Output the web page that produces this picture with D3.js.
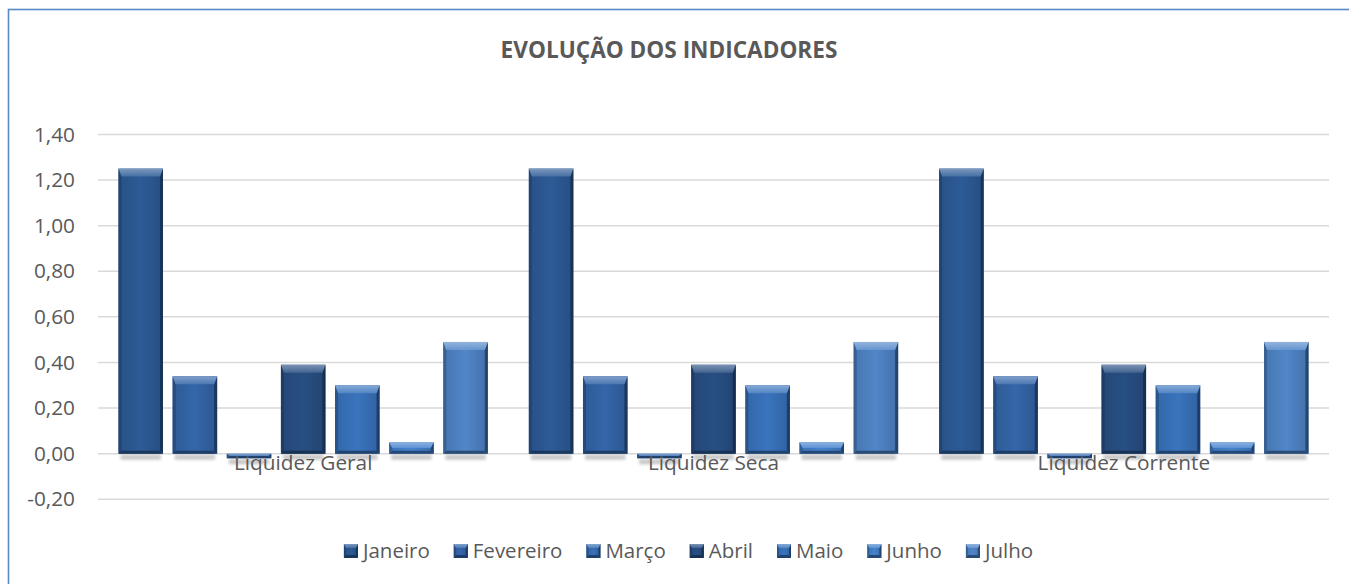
<!DOCTYPE html>
<html><head><meta charset="utf-8">
<script src="https://cdn.jsdelivr.net/npm/d3@7"></script>
<style>
body{margin:0;background:#fff;overflow:hidden}
svg{display:block}
text{font-family:"Open Sans",sans-serif}
</style>
</head><body>
<svg id="chart" width="1349" height="584"></svg>
<script>
const title = "EVOLUÇÃO DOS INDICADORES";
const categories = ["Liquidez Geral", "Liquidez Seca", "Liquidez Corrente"];
const months = ["Janeiro", "Fevereiro", "Março", "Abril", "Maio", "Junho", "Julho"];
const janeiro   = [1.25, 1.25, 1.25];
const fevereiro = [0.34, 0.34, 0.34];
const marco     = [-0.02, -0.02, -0.02];
const abril     = [0.39, 0.39, 0.39];
const maio      = [0.30, 0.30, 0.30];
const junho     = [0.05, 0.05, 0.05];
const julho     = [0.49, 0.49, 0.49];
const seriesValues = [janeiro, fevereiro, marco, abril, maio, junho, julho];
const yTicks = [-0.2, 0, 0.2, 0.4, 0.6, 0.8, 1.0, 1.2, 1.4];
const seriesColors = ["#2d5b96", "#3466a9", "#3a70b6", "#284f82", "#3a74bd", "#4583cd", "#5186c8"];

const svg = d3.select("#chart");
const defs = svg.append("defs");
defs.append("filter").attr("id", "blur").attr("x", "-20%").attr("y", "-100%").attr("width", "140%").attr("height", "300%")
  .append("feGaussianBlur").attr("stdDeviation", 1.8);

// chart border (left/top visible)
svg.append("rect").attr("x", 8.5).attr("y", 9.5).attr("width", 1400).attr("height", 600)
  .attr("fill", "none").attr("stroke", "#5b87c5").attr("stroke-width", 1.6);

const plotL = 98, plotR = 1329;
const y = d3.scaleLinear().domain([-0.2, 1.4]).range([499.3, 134.4]);
const x0 = d3.scaleBand().domain(categories).range([plotL, plotR]).paddingInner(0.1).paddingOuter(0.05);
const x1 = d3.scaleBand().domain(months).range([0, x0.bandwidth()]).paddingInner(0.1785).paddingOuter(0);

// title
svg.append("text").attr("x", 669).attr("y", 58).attr("text-anchor", "middle")
  .attr("font-size", 22.6).attr("font-weight", "bold").attr("fill", "#595959").text(title);

// gridlines
svg.append("g").selectAll("line").data(yTicks).join("line")
  .attr("x1", plotL).attr("x2", plotR)
  .attr("y1", d => y(d)).attr("y2", d => y(d))
  .attr("stroke", "#d9d9d9").attr("stroke-width", 1.5);

// y axis
const fmt = d => d3.format(".2f")(d).replace(".", ",").replace("−", "-");
const yAxis = d3.axisLeft(y).tickValues(yTicks).tickFormat(fmt).tickSize(0).tickPadding(0);
const gy = svg.append("g").attr("transform", `translate(${75},0)`).call(yAxis);
gy.select(".domain").remove();
gy.selectAll("text").attr("font-size", 20.8).attr("fill", "#595959").attr("font-family", "'Open Sans',sans-serif");

function lighten(c, k) { return d3.interpolateRgb(c, "#ffffff")(k); }
function darken(c, k) { return d3.interpolateRgb(c, "#0a1a30")(k); }

function bevelBar(g, bx, by, bw, bh, color, bt, bs, bb, idx) {
  const gid = "g" + idx;
  if (defs.select("#" + gid).empty()) {
    const lg = defs.append("linearGradient").attr("id", gid).attr("x1", 0).attr("x2", 1).attr("y1", 0).attr("y2", 0);
    lg.append("stop").attr("offset", "0%").attr("stop-color", darken(color, 0.15));
    lg.append("stop").attr("offset", "50%").attr("stop-color", color);
    lg.append("stop").attr("offset", "100%").attr("stop-color", darken(color, 0.2));
    const tg = defs.append("linearGradient").attr("id", gid + "t").attr("x1", 0).attr("x2", 0).attr("y1", 0).attr("y2", 1);
    tg.append("stop").attr("offset", "0%").attr("stop-color", lighten(color, 0.38));
    tg.append("stop").attr("offset", "100%").attr("stop-color", lighten(color, 0.12));
  }
  const b1 = Math.min(bt, bh / 2), b2 = Math.min(bb, bh / 2), s = Math.min(bs, bw / 2);
  g.append("rect").attr("x", bx).attr("y", by).attr("width", bw).attr("height", bh).attr("fill", `url(#${gid})`);
  g.append("polygon").attr("points", [[bx, by], [bx + s, by + b1], [bx + s, by + bh - b2], [bx, by + bh]].join(" "))
    .attr("fill", darken(color, 0.35));
  g.append("polygon").attr("points", [[bx + bw, by], [bx + bw - s, by + b1], [bx + bw - s, by + bh - b2], [bx + bw, by + bh]].join(" "))
    .attr("fill", darken(color, 0.6));
  g.append("polygon").attr("points", [[bx, by + bh], [bx + s, by + bh - b2], [bx + bw - s, by + bh - b2], [bx + bw, by + bh]].join(" "))
    .attr("fill", darken(color, 0.55));
  g.append("polygon").attr("points", [[bx, by], [bx + bw, by], [bx + bw - s, by + b1], [bx + s, by + b1]].join(" "))
    .attr("fill", `url(#${gid}t)`);
}

// bars
const barsData = [];
categories.forEach((c, ci) => {
  months.forEach((m, mi) => {
    barsData.push({ c, m, mi, v: seriesValues[mi][ci] });
  });
});
const gBars = svg.append("g");
gBars.selectAll("rect.shadow").data(barsData).join("rect").attr("class", "shadow")
  .attr("x", d => x0(d.c) + x1(d.m) + 2)
  .attr("y", d => Math.max(y(d.v), y(0)) + 1)
  .attr("width", x1.bandwidth() - 4)
  .attr("height", 5)
  .attr("fill", "#000").attr("opacity", 0.22).attr("filter", "url(#blur)");
barsData.forEach(d => {
  const bx = x0(d.c) + x1(d.m);
  const top = Math.min(y(d.v), y(0));
  const h = Math.abs(y(d.v) - y(0));
  bevelBar(gBars, bx, top, x1.bandwidth(), h, seriesColors[d.mi], 8, 3, 3, d.mi);
});

// category labels (drawn over bars)
const xAxis = d3.axisBottom(x0).tickSize(0).tickPadding(0);
const gx = svg.append("g").attr("transform", `translate(0,${452})`).call(xAxis);
gx.select(".domain").remove();
gx.selectAll("text").attr("font-size", 20.8).attr("fill", "#595959").attr("font-family", "'Open Sans',sans-serif").attr("dy", "0.85em");

// legend
const gLeg = svg.append("g");
const items = gLeg.selectAll("g").data(months).join("g");
const mk = 14, mkGap = 5;
items.append("text").attr("x", mk + mkGap).attr("y", 558).attr("font-size", 20.5).attr("fill", "#595959").text(d => d);
let widths = [];
items.each(function () { widths.push(mk + mkGap + d3.select(this).select("text").node().getComputedTextLength()); });
const gap = 24;
const total = d3.sum(widths) + gap * (widths.length - 1);
let cx = 688.5 - total / 2;
items.each(function (d, i) {
  const g = d3.select(this);
  g.attr("transform", `translate(${cx},0)`);
  bevelBar(g, 0, 544, mk, mk, seriesColors[i], 4, 2, 3, i);
  cx += widths[i] + gap;
});
</script>
</body></html>
